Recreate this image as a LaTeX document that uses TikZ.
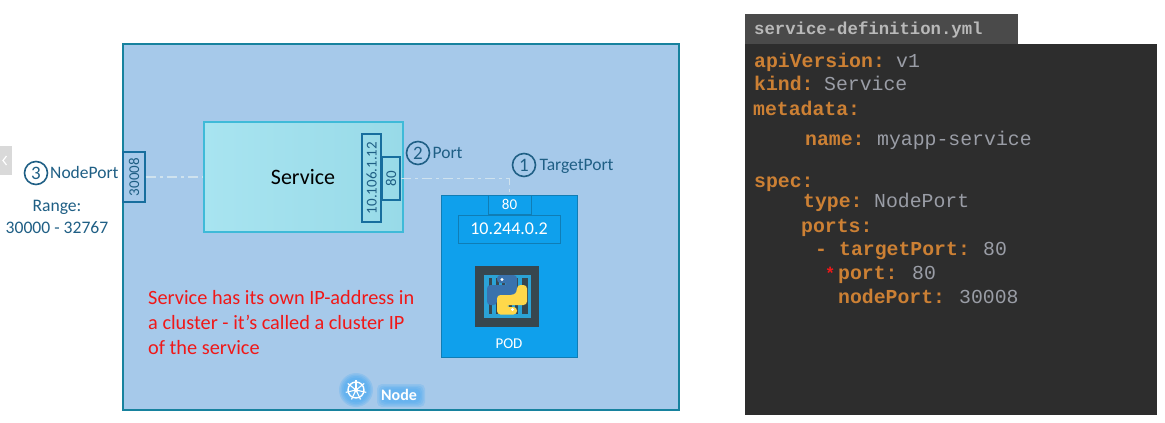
\documentclass[tikz,border=0pt]{standalone}
\usepackage{fontspec}
\setmainfont{Carlito}
\newfontfamily\codefont{Liberation Mono}
\definecolor{nodebg}{HTML}{A6C9EA}
\definecolor{nodeline}{HTML}{17829E}
\definecolor{svcA}{HTML}{A8E4F0}
\definecolor{svcB}{HTML}{98DAE8}
\definecolor{svcline}{HTML}{3FBAD8}
\definecolor{portline}{HTML}{176E9E}
\definecolor{labelblue}{HTML}{1F5F85}
\definecolor{podblue}{HTML}{0FA0EC}
\definecolor{podline}{HTML}{107DB5}
\definecolor{icondark}{HTML}{37474F}
\definecolor{iconlight}{HTML}{2BA3D6}
\definecolor{dashc}{HTML}{CFE2EE}
\definecolor{codebg}{HTML}{2D2D2D}
\definecolor{tabbg}{HTML}{4A4A4A}
\definecolor{tabtxt}{HTML}{B9B9B9}
\definecolor{keyc}{HTML}{CC8034}
\definecolor{valc}{HTML}{9A9DA6}
\definecolor{redt}{HTML}{F01818}
\definecolor{glowc}{HTML}{3FA6F5}
\definecolor{pyblue}{HTML}{3A72AD}
\definecolor{pyyellow}{HTML}{FFD84A}
\tikzset{
  x=1pt,y=-1pt,
  portbox/.style={draw=portline,line width=1.5pt,inner sep=0pt,text=labelblue,font=\fontsize{15}{15}\selectfont},
  podbox/.style={draw=podline,line width=1pt,fill=podblue,inner sep=0pt,text=white},
  numcirc/.style={draw=labelblue,circle,line width=1.6pt,minimum size=23pt,inner sep=0pt,text=labelblue,font=\fontsize{19}{19}\selectfont},
  lab/.style={text=labelblue,anchor=base west,inner sep=0pt,font=\fontsize{17.5}{17.5}\selectfont},
  rangetxt/.style={text=labelblue,inner sep=0pt,font=\fontsize{17.6}{17.6}\selectfont},
  dashlink/.style={draw=dashc,line width=1.2pt,dash pattern=on 10pt off 4pt on 3pt off 4pt},
  key/.style={text=keyc,anchor=base west,inner sep=0pt,font=\codefont\bfseries\fontsize{19.8}{19.8}\selectfont},
  val/.style={text=valc,anchor=base west,inner sep=0pt,font=\codefont\fontsize{19.8}{19.8}\selectfont},
  redline/.style={text=redt,anchor=base west,inner sep=0pt,font=\fontsize{20.3}{20.3}\selectfont},
}
\begin{document}
\begin{tikzpicture}
\useasboundingbox (0,0) rectangle (1165,423);
\fill[white] (0,0) rectangle (1165,423);
% slider tab
\fill[gray!30] (0,146) rectangle (12,175);
\draw[white,line width=1.2pt] (6.5,156) -- (3,160.5) -- (6.5,165);
% node box
\node[draw=nodeline,fill=nodebg,line width=1.6pt,minimum width=556pt,minimum height=366pt,inner sep=0pt] (nodebox) at (401,227) {};
% service
\node[draw=svcline,left color=svcA,right color=svcB,line width=1.3pt,minimum width=199pt,minimum height=110pt,inner sep=0pt] (svc) at (303.5,177) {};
\node[inner sep=0pt,font=\fontsize{22}{22}\selectfont] (svclabel) at (303,177.5) {Service};
\node[portbox,minimum width=22pt,minimum height=50pt] (np) at (134,177) {\rotatebox{90}{30008}};
\node[portbox,minimum width=19pt,minimum height=88pt] (cip) at (371.5,178) {\rotatebox{90}{10.106.1.12}};
\node[portbox,minimum width=18pt,minimum height=43pt] (p80) at (391,178.5) {\rotatebox{90}{80}};
% pod
\node[podbox,minimum width=136pt,minimum height=162pt] (pod) at (509,276) {};
\node[podbox,minimum width=43pt,minimum height=19pt,font=\fontsize{15}{15}\selectfont] (pod80) at (509.5,204.5) {80};
\node[podbox,minimum width=102pt,minimum height=28pt,font=\fontsize{18}{18}\selectfont] (podip) at (509,229) {10.244.0.2};
\node[text=white,inner sep=0pt,font=\fontsize{15}{15}\selectfont] (podlabel) at (509,343.5) {POD};
% links
\draw[dashlink] (np.east) -- (svc.west);
\draw[dashlink] (p80.east) -| (pod80.north);
% container icon
\fill[icondark] (475,266) rectangle (539,327);
\fill[iconlight] (484,275) rectangle (531,318);
\foreach \bx in {489,495.5,502,508.5,515,521.5}
  \fill[icondark] (\bx,278) rectangle +(3.2,36);
\fill[icondark] (525,278) rectangle (528,314);
% python logo
\fill[rounded corners=3.5pt,fill=pyblue] (497,275) -- (517,275) -- (517,295) -- (500,295) -- (497,298) -- (497,305) -- (487,305) -- (487,285) -- (508,285) -- (508,283) -- (497,283) -- cycle;
\fill[rounded corners=3.5pt,fill=pyyellow] (517,314.5) -- (497,314.5) -- (497,295) -- (514,295) -- (517,292) -- (517,285) -- (527,285) -- (527,305) -- (506,305) -- (506,307) -- (517,307) -- cycle;
\fill[white] (502,279.5) circle (1.6);
\fill[white] (512.5,309.5) circle (1.6);
% helm and node label
\foreach \gr in {17,15.5,14,12.5}
  \fill[glowc,opacity=.22] (356,390) circle (\gr);
\foreach \gi in {0,1.5,3,4.5}
  \fill[glowc,opacity=.2,rounded corners=5pt] (377+\gi,384+\gi) rectangle (425-\gi,407-\gi);
\draw[white,line width=1.4pt] (356,390) circle (8);
\foreach \ang in {90,141.4,192.9,244.3,295.7,347.1,398.6}
  \draw[white,line width=1.1pt] (356,390) -- +(\ang:-10.5);
\fill[white] (356,390) circle (2.2);
\node[text=white,inner sep=0pt,anchor=base west,font=\bfseries\fontsize{16}{16}\selectfont] (nodelabel) at (381,400.5) {Node};
% labels
\node[numcirc] (c3) at (36,173) {3};
\node[lab] (l3) at (50,178.5) {NodePort};
\node[rangetxt] (range1) at (57,207) {Range:};
\node[rangetxt] (range2) at (57,228) {30000 - 32767};
\node[numcirc] (c2) at (418,153) {2};
\node[lab] (l2) at (432.5,158.5) {Port};
\node[numcirc] (c1) at (524,165) {1};
\node[lab] (l1) at (539.5,170.5) {TargetPort};
% red note
\node[redline] (r1) at (148,304) {Service has its own IP-address in};
\node[redline] (r2) at (148,329) {a cluster - it's called a cluster IP};
\node[redline] (r3) at (148,354) {of the service};
% code panel
\node[fill=codebg,minimum width=412pt,minimum height=371pt,inner sep=0pt] (panel) at (951,229.5) {};
\node[fill=tabbg,minimum width=273pt,minimum height=30pt,inner sep=0pt] (tab) at (881.5,29) {};
\node[text=tabtxt,anchor=base west,inner sep=0pt,font=\codefont\bfseries\fontsize{17.3}{17.3}\selectfont] (tabname) at (754,34.5) {service-definition.yml};
\node[key] (k1) at (754,67) {apiVersion:};
\node[val] (v1) at (896,67) {v1};
\node[key] (k2) at (754,90.5) {kind:};
\node[val] (v2) at (824,90.5) {Service};
\node[key] (k3) at (753,115) {metadata:};
\node[key] (k4) at (805,145) {name:};
\node[val] (v4) at (877,145) {myapp-service};
\node[key] (k5) at (754,187) {spec:};
\node[key] (k6) at (803,207) {type:};
\node[val] (v6) at (874,207) {NodePort};
\node[key] (k7) at (801,232) {ports:};
\node[key] (k8) at (815,255) {-};
\node[key] (k9) at (839,255) {targetPort:};
\node[val] (v9) at (983,255) {80};
\node[text=redt,anchor=base west,inner sep=0pt,font=\codefont\bfseries\fontsize{17}{17}\selectfont] (star) at (825,279) {*};
\node[key] (k10) at (838,279) {port:};
\node[val] (v10) at (912,279) {80};
\node[key] (k11) at (838,303) {nodePort:};
\node[val] (v11) at (959,303) {30008};
\end{tikzpicture}
\end{document}
